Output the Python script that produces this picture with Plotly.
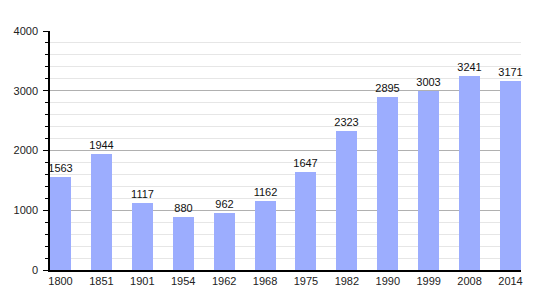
import plotly.graph_objects as go

years = ["1800", "1851", "1901", "1954", "1962", "1968", "1975", "1982", "1990", "1999", "2008", "2014"]
population = [1563, 1944, 1117, 880, 962, 1162, 1647, 2323, 2895, 3003, 3241, 3171]

xpos = list(range(len(years)))
bar_w = 21 / 40.9

fig = go.Figure()
fig.add_trace(go.Bar(
    x=xpos, y=population, width=bar_w,
    marker=dict(color="#9cadfe", line=dict(width=0)),
    text=[str(v) for v in population], textposition="outside",
    constraintext="none",
    textfont=dict(color="#111111", size=11, family="Liberation Sans, Arial, sans-serif"),
    cliponaxis=False,
))

fig.update_layout(
    width=550, height=300,
    margin=dict(l=50, r=29, t=31, b=30),
    paper_bgcolor="white", plot_bgcolor="white",
    showlegend=False,
    font=dict(family="Liberation Sans, Arial, sans-serif", size=11, color="#222222"),
    bargap=0,
)
fig.update_xaxes(
    range=[-bar_w / 2, len(years) - 1 + bar_w / 2],
    tickvals=xpos, ticktext=years,
    showgrid=False, zeroline=False,
    showline=True, linecolor="black", linewidth=1.5,
    ticks="", ticklen=0,
    tickfont=dict(size=11, color="#222222"),
)
fig.update_yaxes(
    range=[0, 4000], dtick=1000,
    showgrid=True, gridcolor="#b0b0b0", gridwidth=1,
    zeroline=False,
    showline=True, linecolor="black", linewidth=1.5,
    ticks="outside", ticklen=5, tickcolor="black", tickwidth=1,
    ticklabelstandoff=3,
    tickfont=dict(size=11, color="#222222"),
    minor=dict(dtick=200, showgrid=True, gridcolor="#e6e6e6", gridwidth=1,
               ticks="outside", ticklen=3, tickcolor="black"),
)

fig.write_html("out.html")
